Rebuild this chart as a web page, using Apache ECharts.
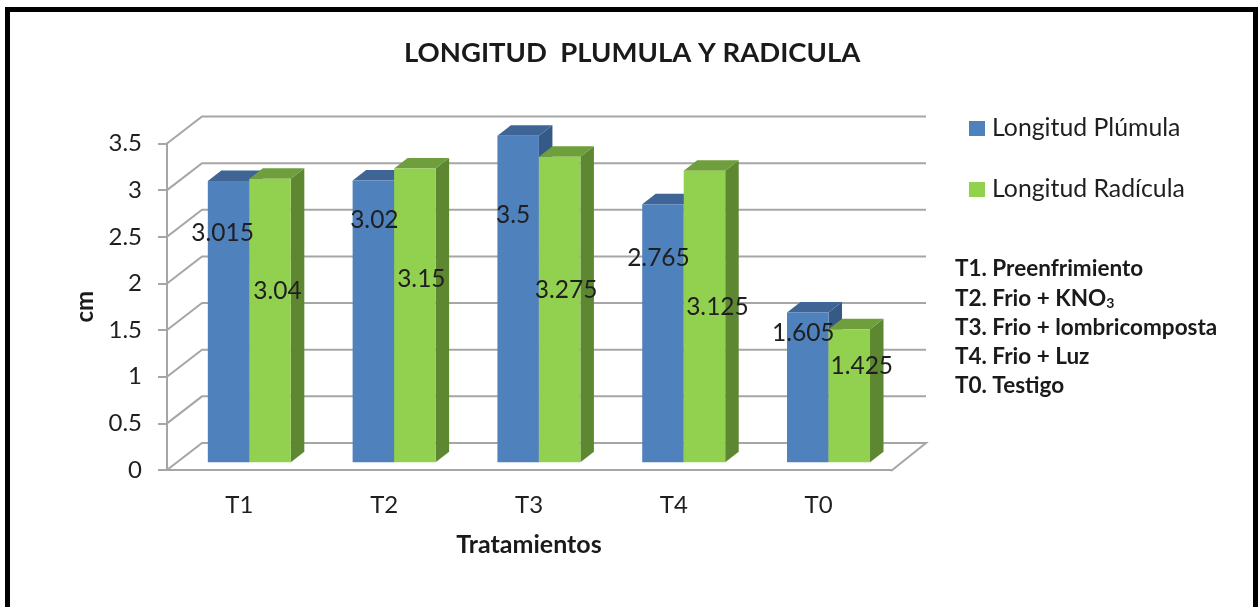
<!DOCTYPE html>
<html>
<head>
<meta charset="utf-8">
<style>html,body{margin:0;padding:0;background:#fff}#c{width:1258px;height:607px}</style>
<script src="https://cdn.jsdelivr.net/npm/echarts@6/dist/echarts.min.js"></script>
</head>
<body>
<div id="c"></div>
<script>
const titleText = 'LONGITUD  PLUMULA Y RADICULA';
const categories = ['T1', 'T2', 'T3', 'T4', 'T0'];
const plumula = [3.015, 3.02, 3.5, 2.765, 1.605];
const radicula = [3.04, 3.15, 3.275, 3.125, 1.425];
const valueTicks = [0, 0.5, 1, 1.5, 2, 2.5, 3, 3.5];
const notes = ['T1. Preenfrimiento', 'T2. Frio + KNO{sub|3}', 'T3. Frio + lombricomposta', 'T4. Frio + Luz', 'T0. Testigo'];

// label shifts (px) from each bar's top centre: hand-placed in the original
const plumulaLabelShift = [[-6, 52], [1, 39.5], [-5, 79], [-4.5, 54], [-4.5, 20.5]];
const radiculaLabelShift = [[7.5, 112], [6.5, 111], [6.5, 133], [13, 136], [12.5, 37]];

const FONT = 'Lato, "Open Sans", sans-serif';
const TEXT = '#1f1f1f';
const WALL = '#a6a6a6';
const wallDX = 35, wallDY = -27;      // wall depth
const barDX = 13.5, barDY = -10.5;    // bar depth
const barFrontLift = 7.7;             // bars stand a little behind the front edge

function wallSeries() {
  return {
    type: 'custom', name: 'wall', silent: true, clip: false, z: 1,
    data: valueTicks.map(v => [0, v]),
    encode: { x: 0, y: 1 },
    renderItem(params, api) {
      const cs = params.coordSys;
      const y = api.coord([0, api.value(1)])[1];
      const line = { stroke: WALL, lineWidth: 2, fill: null };
      const pts = [[cs.x, y], [cs.x + wallDX, y + wallDY], [cs.x + cs.width + wallDX, y + wallDY]];
      if (api.value(1) === 0) pts.push([cs.x + cs.width, y + 1]);
      return { type: 'polyline', shape: { points: pts }, style: line, silent: true };
    }
  };
}

function barSeries(name, values, front, top, side, slot, shifts) {
  return {
    type: 'custom', name, clip: false, z: 2,
    itemStyle: { color: front },
    data: categories.map((c, i) => [i, values[i]]),
    encode: { x: 0, y: 1 },
    renderItem(params, api) {
      const i = api.value(0), v = api.value(1);
      const band = api.size([1, 0])[0];
      const w = band * 0.2866;
      const base = api.coord([i, 0]), peak = api.coord([i, v]);
      const x0 = base[0] + band * 0.0685 + (slot - 1) * w;
      const x1 = x0 + w;
      const yb = base[1] - barFrontLift;
      const yt = peak[1] - barFrontLift;
      const shift = shifts[i];
      return {
        type: 'group',
        children: [
          { type: 'polygon', z2: slot, shape: { points: [[x1, yb], [x1, yt], [x1 + barDX, yt + barDY], [x1 + barDX, yb + barDY]] }, style: { fill: side } },
          { type: 'polygon', z2: slot, shape: { points: [[x0, yt], [x1, yt], [x1 + barDX, yt + barDY], [x0 + barDX, yt + barDY]] }, style: { fill: top } },
          { type: 'rect', z2: slot, shape: { x: x0, y: yt, width: w, height: yb - yt }, style: { fill: front } },
          { type: 'text', z2: 100, x: (x0 + x1) / 2 + shift[0], y: yt + shift[1],
            style: { text: String(v), fill: TEXT, font: '24.5px ' + FONT, align: 'center', verticalAlign: 'middle' } }
        ]
      };
    }
  };
}

const noteRows = [269, 299, 328, 357, 386];
const chart = echarts.init(document.getElementById('c'), null, { renderer: 'canvas' });
chart.setOption({
  animation: false,
  backgroundColor: '#ffffff',
  title: {
    text: titleText, left: 399, top: 34,
    textStyle: { fontFamily: FONT, fontWeight: 'bold', fontSize: 27.5, color: '#1a1a1a' }
  },
  legend: {
    data: ['Longitud Plúmula', 'Longitud Radícula'],
    orient: 'vertical', left: 964, top: 111,
    icon: 'rect', itemWidth: 16, itemHeight: 15, itemGap: 36,
    textStyle: { fontFamily: FONT, fontSize: 24.8, color: TEXT, padding: [0, 0, 0, 2] }
  },
  grid: { left: 167, top: 143.5, width: 724, height: 326.5, containLabel: false },
  xAxis: {
    type: 'category', data: categories, boundaryGap: true,
    name: 'Tratamientos', nameLocation: 'middle', nameGap: 62,
    nameTextStyle: { fontFamily: FONT, fontWeight: 'bold', fontSize: 25, color: '#1a1a1a' },
    axisLine: { show: true, lineStyle: { color: WALL, width: 2 } },
    axisTick: { show: false },
    axisLabel: { fontFamily: FONT, fontSize: 24, color: TEXT, margin: 23 },
    splitLine: { show: false }
  },
  yAxis: {
    type: 'value', min: 0, max: 3.5, interval: 0.5,
    name: 'cm', nameLocation: 'middle', nameGap: 67,
    nameTextStyle: { fontFamily: FONT, fontWeight: 'bold', fontSize: 24, color: '#1a1a1a' },
    axisLine: { show: true, lineStyle: { color: WALL, width: 2 } },
    axisTick: { show: true, length: 9, lineStyle: { color: WALL, width: 2 } },
    axisLabel: { fontFamily: FONT, fontSize: 24, color: TEXT, margin: 25, padding: [6, 0, 0, 0], formatter: v => String(v) },
    splitLine: { show: false }
  },
  series: [
    wallSeries(),
    barSeries('Longitud Plúmula', plumula, '#4f81bd', '#3e6596', '#345a85', 0, plumulaLabelShift),
    barSeries('Longitud Radícula', radicula, '#92d050', '#6f9e3d', '#5e8731', 1, radiculaLabelShift)
  ],
  graphic: [
    { type: 'rect', shape: { x: 5, y: 7, width: 1253, height: 5 }, style: { fill: '#000' }, silent: true },
    { type: 'rect', shape: { x: 5, y: 7, width: 5, height: 600 }, style: { fill: '#000' }, silent: true },
    { type: 'rect', shape: { x: 1253, y: 7, width: 5, height: 600 }, style: { fill: '#000' }, silent: true }
  ].concat(notes.map((t, i) => ({
    type: 'text', x: 955, y: noteRows[i], silent: true,
    style: {
      text: t, fill: '#1a1a1a', font: 'bold 22.5px ' + FONT, verticalAlign: 'middle',
      rich: { sub: { font: 'bold 14px ' + FONT, fill: '#1a1a1a', verticalAlign: 'bottom', padding: [8, 0, 0, 0] } }
    }
  })))
});
</script>
</body>
</html>
